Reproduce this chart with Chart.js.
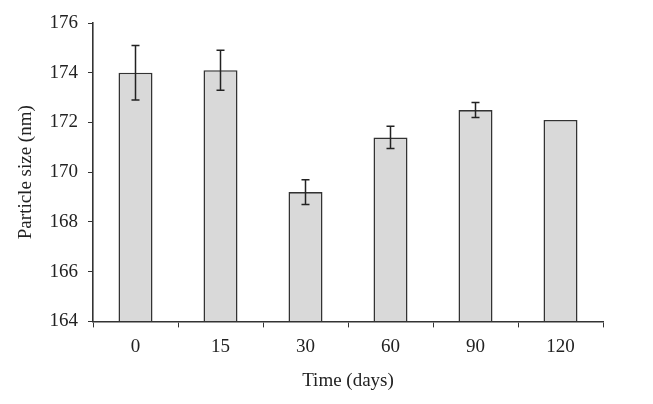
<!DOCTYPE html>
<html>
<head>
<meta charset="utf-8">
<script src="https://cdn.jsdelivr.net/npm/chart.js@4/dist/chart.umd.min.js"></script>
<style>
  html, body { margin: 0; padding: 0; background: #fff; }
  #wrap { width: 653px; height: 404px; }
</style>
</head>
<body>
<div id="wrap"><canvas id="sizeChart"></canvas></div>
<script>
// data
const days = ["0", "15", "30", "60", "90", "120"]
const particleSize = [174.0, 174.1, 169.2, 171.4, 172.5, 172.1]
const sizeError = [1.1, 0.8, 0.5, 0.45, 0.3, 0]
const yTicks = [164, 166, 168, 170, 172, 174, 176]

const ink = "#333"
const font = { family: "'Liberation Serif', 'DejaVu Serif', serif", size: 19 }

// draws the +/- error whiskers on top of the bars
const errorBars = {
  id: "errorBars",
  afterDatasetsDraw(chart) {
    const ctx = chart.ctx
    const y = chart.scales.y
    const meta = chart.getDatasetMeta(0)
    ctx.save()
    ctx.strokeStyle = "#222"
    ctx.lineWidth = 1.5
    meta.data.forEach((bar, i) => {
      const err = sizeError[i]
      if (!err) return
      const top = y.getPixelForValue(particleSize[i] + err)
      const bottom = y.getPixelForValue(particleSize[i] - err)
      const cap = 4
      ctx.beginPath()
      ctx.moveTo(bar.x, top)
      ctx.lineTo(bar.x, bottom)
      ctx.moveTo(bar.x - cap, top)
      ctx.lineTo(bar.x + cap, top)
      ctx.moveTo(bar.x - cap, bottom)
      ctx.lineTo(bar.x + cap, bottom)
      ctx.stroke()
    })
    ctx.restore()
  }
}

new Chart(document.getElementById("sizeChart"), {
  type: "bar",
  data: {
    labels: days,
    datasets: [{
      label: "Particle size",
      data: particleSize,
      backgroundColor: "#d9d9d9",
      borderColor: ink,
      borderWidth: 1.6,
      borderSkipped: "bottom",
      barPercentage: 0.4,
      categoryPercentage: 1.0,
      base: 164
    }]
  },
  options: {
    responsive: true,
    maintainAspectRatio: false,
    animation: false,
    layout: { padding: { left: 11, right: 50, top: 23, bottom: 8 } },
    plugins: {
      legend: { display: false },
      tooltip: { enabled: false }
    },
    scales: {
      x: {
        grid: {
          drawOnChartArea: false,
          color: ink,
          tickLength: 6,
          offset: true
        },
        border: { color: ink, width: 1.6 },
        ticks: { color: "#222", font: font, padding: 8 },
        title: { display: true, text: "Time (days)", color: "#222", font: font, padding: { top: 3 } }
      },
      y: {
        min: 164,
        max: 176,
        afterBuildTicks(axis) {
          axis.ticks = yTicks.map((v) => ({ value: v }))
        },
        afterFit(axis) { axis.width = 82 },
        grid: {
          drawOnChartArea: false,
          color: ink,
          tickLength: 5
        },
        border: { color: ink, width: 1.6 },
        ticks: { color: "#222", font: font, padding: 10 },
        title: { display: true, text: "Particle size (nm)", color: "#222", font: font, padding: { bottom: 4 } }
      }
    }
  },
  plugins: [errorBars]
})
</script>
</body>
</html>
